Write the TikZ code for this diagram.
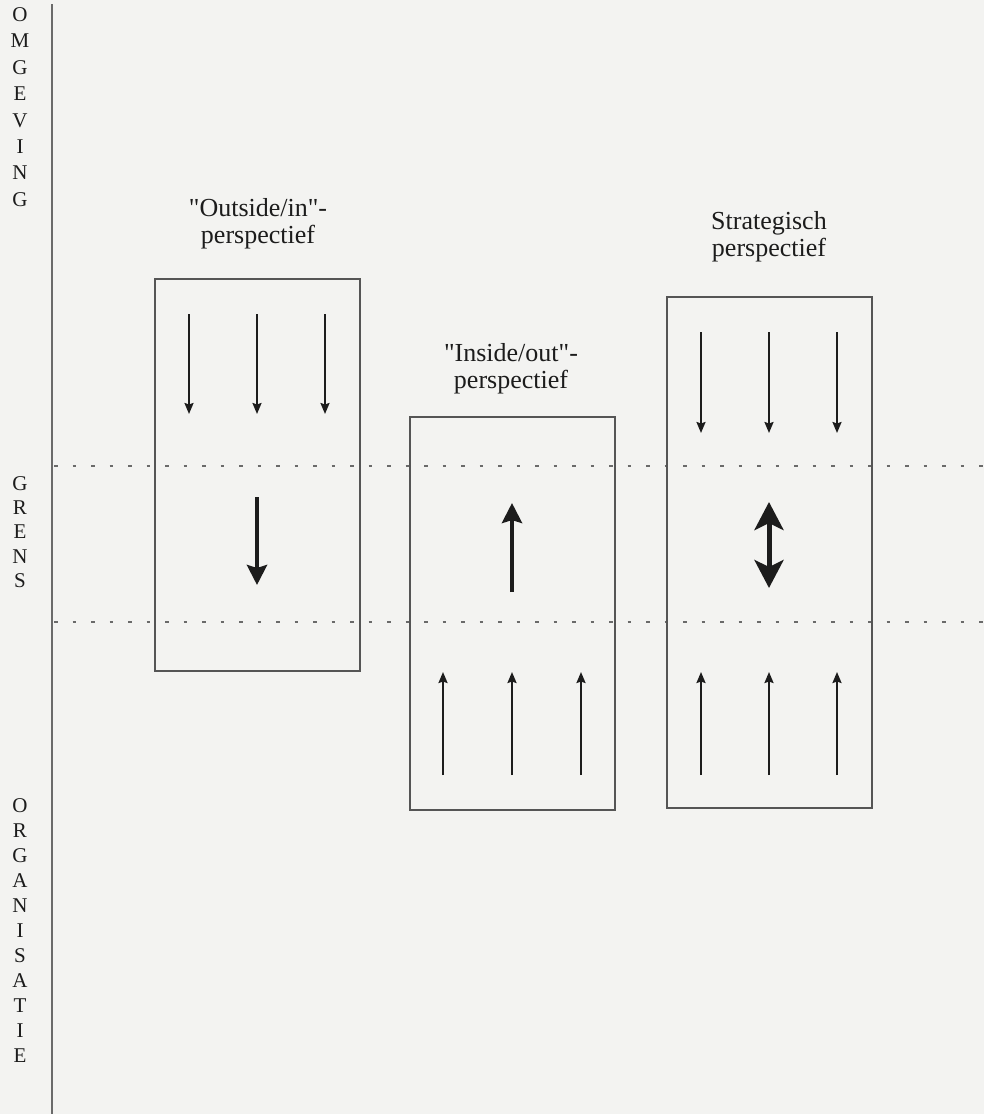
\documentclass[tikz,border=0pt]{standalone}
\usepackage{fontspec}
\setmainfont{Liberation Serif}
\usetikzlibrary{arrows.meta}

\definecolor{paper}{HTML}{F3F3F1}
\definecolor{ink}{HTML}{1C1C1C}
\definecolor{frame}{HTML}{555555}
\definecolor{rule}{HTML}{6A6A6A}

\tikzset{
  zonelabel/.style={font=\fontsize{21}{25}\selectfont, align=center, text=ink, inner sep=0pt},
  caption/.style={font=\fontsize{26}{27}\selectfont, align=center, text=ink, inner sep=0pt},
  panel/.style={draw=frame, line width=1.3pt, rectangle, inner sep=0pt},
  flow/.style={draw=ink, line width=2pt, -{Stealth[length=11pt,width=9pt,inset=1.5pt]}},
  bigflow/.style={draw=ink, line width=4.5pt, -{Stealth[length=20pt,width=20pt,inset=3pt]}},
  twoway/.style={draw=ink, line width=5pt, {Stealth[length=28pt,width=29pt,inset=7pt]}-{Stealth[length=28pt,width=29pt,inset=7pt]}},
  border/.style={draw=rule, line width=1.1pt, dash pattern=on 3.5pt off 15pt},
}

\begin{document}
\begin{tikzpicture}[x=1pt, y=-1pt]
  % page and margins
  \fill[paper] (0,0) rectangle (984,1114);
  \useasboundingbox (0,0) rectangle (984,1114);

  % vertical axis with the three zones
  \coordinate (axtop) at (52,4);
  \coordinate (axbot) at (52,1114);
  \draw[rule, line width=1.6pt] (axtop) -- (axbot);

  \node[zonelabel, font=\fontsize{21}{26.4}\selectfont] (omg) at (20,107) {O\\M\\G\\E\\V\\I\\N\\G};
  \node[zonelabel, font=\fontsize{21}{24.3}\selectfont] (grens) at (20,532) {G\\R\\E\\N\\S};
  \node[zonelabel] (org) at (20,931) {O\\R\\G\\A\\N\\I\\S\\A\\T\\I\\E};

  % boundary zone
  \coordinate (g1l) at (54,466);  \coordinate (g1r) at (984,466);
  \coordinate (g2l) at (54,622);  \coordinate (g2r) at (984,622);
  \draw[border] (g1l) -- (g1r);
  \draw[border] (g2l) -- (g2r);

  % the three perspectives
  \node[panel, minimum width=205pt, minimum height=392pt] (boxa) at (257.5,475) {};
  \node[panel, minimum width=205pt, minimum height=393pt] (boxb) at (512.5,613.5) {};
  \node[panel, minimum width=205pt, minimum height=511pt] (boxc) at (769.5,552.5) {};

  \node[caption] (capa) at (258,224) {\textquotedbl Outside/in\textquotedbl-\\perspectief};
  \node[caption] (capb) at (511,369) {\textquotedbl Inside/out\textquotedbl-\\perspectief};
  \node[caption] (capc) at (769,237) {Strategisch\\perspectief};

  % outside/in: environment pushes inward
  \foreach \x/\n in {189/1,257/2,325/3} {
    \coordinate (a\n s) at (\x,314);
    \coordinate (a\n e) at (\x,414);
    \draw[flow] (a\n s) -- (a\n e);
  }
  \coordinate (abs) at (257,497);
  \coordinate (abe) at (257,585);
  \draw[bigflow] (abs) -- (abe);

  % inside/out: organisation pushes outward
  \foreach \x/\n in {443/1,512/2,581/3} {
    \coordinate (b\n s) at (\x,775);
    \coordinate (b\n e) at (\x,672);
    \draw[flow] (b\n s) -- (b\n e);
  }
  \coordinate (bbs) at (512,592);
  \coordinate (bbe) at (512,503);
  \draw[bigflow] (bbs) -- (bbe);

  % strategic: both directions
  \foreach \x/\n in {701/1,769/2,837/3} {
    \coordinate (c\n s) at (\x,332);
    \coordinate (c\n e) at (\x,433);
    \draw[flow] (c\n s) -- (c\n e);
    \coordinate (d\n s) at (\x,775);
    \coordinate (d\n e) at (\x,672);
    \draw[flow] (d\n s) -- (d\n e);
  }
  \coordinate (cbs) at (769,502);
  \coordinate (cbe) at (769,588);
  \draw[twoway] (cbs) -- (cbe);
\end{tikzpicture}
\end{document}
